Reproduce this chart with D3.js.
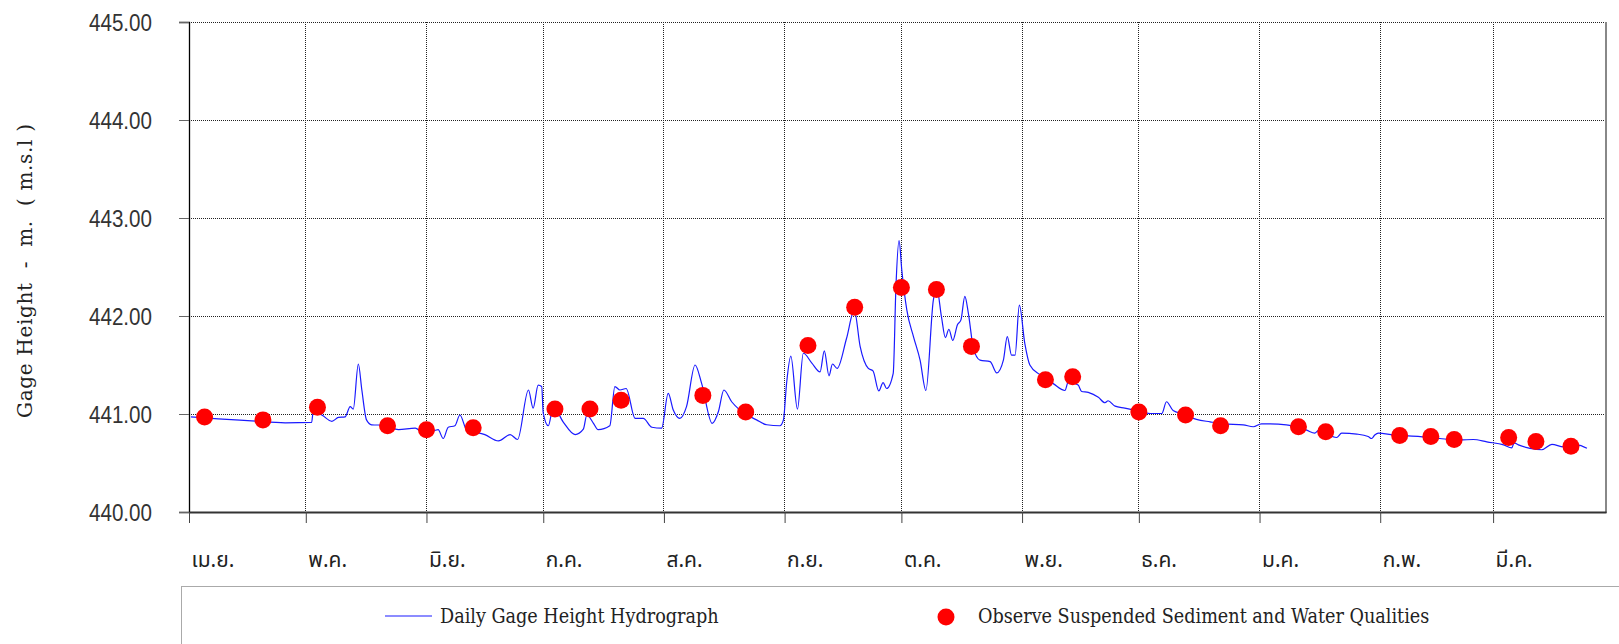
<!DOCTYPE html>
<html><head><meta charset="utf-8">
<script src="https://cdn.jsdelivr.net/npm/d3@7"></script>
<style>body{margin:0;background:#fff;} svg{display:block}</style>
</head><body><svg id="c" width="1619" height="644"></svg>
<script>
// ---- data ----
const monthLabels = ["เม.ย.","พ.ค.","มิ.ย.","ก.ค.","ส.ค.","ก.ย.","ต.ค.","พ.ย.","ธ.ค.","ม.ค.","ก.พ.","มี.ค."];
const monthStarts = ["2023-04-01","2023-05-01","2023-06-01","2023-07-01","2023-08-01","2023-09-01","2023-10-01","2023-11-01","2023-12-01","2024-01-01","2024-02-01","2024-03-01"];
const yTicks = [440, 441, 442, 443, 444, 445];
const yTickLabels = ["440.00","441.00","442.00","443.00","444.00","445.00"];

// daily gage height hydrograph (days after 1 Apr, level m. msl)
const hydroDay = [0.5,7.5,16.1,24.7,31.5,31.9,34.1,36.7,38.4,40.1,41.4,42.2,43.5,44.4,45.6,46.9,50.3,53.8,58.1,60.6,64.0,65.3,66.6,68.3,69.6,71.3,76.0,79.5,82.5,84.4,87.2,88.4,89.7,90.6,91.0,92.3,93.6,96.1,99.2,101.3,102.2,103.9,105.1,108.1,109.4,110.7,112.3,114.6,116.7,118.9,121.4,123.1,124.4,126.1,127.8,130.0,131.7,134.4,136.0,137.4,139.4,141.5,145.8,148.4,151.8,152.7,153.5,154.6,156.3,157.8,160.0,162.1,163.2,164.4,165.3,166.5,168.9,170.9,172.4,174.5,175.7,177.2,178.3,179.2,180.9,181.6,182.4,183.1,184.4,186.1,187.8,189.3,191.2,192.1,193.3,194.3,195.2,196.2,197.4,198.3,199.3,200.2,201.5,203.2,205.8,207.5,209.2,210.2,211.3,212.2,213.3,214.7,216.0,218.6,222.0,225.0,225.9,228.4,229.3,231.0,233.6,235.3,236.1,237.9,240.4,243.4,246.9,249.9,251.1,252.8,255.4,258.8,262.3,265.7,270.8,273.4,275.5,281.9,287.1,289.2,290.1,294.8,296.1,300.0,302.9,303.8,304.6,305.5,309.4,316.3,321.3,326.5,329.9,333.4,337.7,339.8,340.4,341.5,344.5,347.5,350.1,353.1,356.5,359.1];
const hydroLevel = [440.97,440.95,440.93,440.91,440.915,441.02,440.99,440.925,440.965,440.97,441.075,441.05,441.51,441.245,440.94,440.89,440.885,440.84,440.855,440.79,440.84,440.75,440.865,440.88,440.99,440.84,440.79,440.725,440.79,440.74,441.245,441.06,441.295,441.28,441.01,440.88,441.075,440.92,440.79,440.845,440.99,440.905,440.84,440.88,441.28,441.245,441.26,440.955,440.955,440.865,440.855,441.21,441.04,440.955,441.075,441.5,441.31,440.905,441.025,441.245,441.125,441.04,440.94,440.89,440.88,440.94,441.31,441.59,441.05,441.62,441.52,441.43,441.645,441.39,441.51,441.465,441.77,442.06,441.69,441.465,441.44,441.235,441.32,441.26,441.415,442.3,442.77,442.47,442.06,441.79,441.55,441.24,442.16,442.28,441.99,441.78,441.865,441.75,441.91,441.96,442.2,442.03,441.67,441.55,441.535,441.42,441.55,441.79,441.6,441.6,442.11,441.72,441.5,441.4,441.31,441.24,441.33,441.295,441.23,441.22,441.17,441.115,441.135,441.08,441.06,441.035,441.005,441.005,441.125,441.035,441.0,440.945,440.92,440.9,440.89,440.87,440.9,440.89,440.835,440.805,440.83,440.76,440.805,440.795,440.77,440.75,440.785,440.805,440.785,440.77,440.75,440.735,440.74,440.715,440.685,440.655,440.705,440.685,440.65,440.635,440.69,440.665,440.685,440.65];

// observed suspended sediment & water quality samples
const sampleDate = ["2023-04-05","2023-04-20","2023-05-04","2023-05-22","2023-06-01","2023-06-13","2023-07-04","2023-07-13","2023-07-21","2023-08-11","2023-08-22","2023-09-07","2023-09-19","2023-10-01","2023-10-10","2023-10-19","2023-11-07","2023-11-14","2023-12-01","2023-12-13","2023-12-22","2024-01-11","2024-01-18","2024-02-06","2024-02-14","2024-02-20","2024-03-05","2024-03-12","2024-03-21"];
const sampleLevel = [440.97,440.94,441.07,440.88,440.84,440.86,441.05,441.05,441.14,441.19,441.02,441.70,442.09,442.29,442.27,441.69,441.35,441.38,441.02,440.99,440.88,440.87,440.82,440.78,440.77,440.74,440.76,440.72,440.67];

const legendLabels = ["Daily Gage Height Hydrograph","Observe Suspended Sediment and Water Qualities"];
const yTitle = "Gage Height  -  m.  ( m.s.l )";

// ---- drawing ----
const parse = d3.timeParse("%Y-%m-%d");
const start = parse("2023-04-01");
const L = 189, R = 1606, T = 22, B = 512;
const svg = d3.select("#c");
const x = d3.scaleTime().domain([start, parse("2024-03-30")]).range([L, R]);
const y = d3.scaleLinear().domain([440, 445]).range([B, T]);
const dayDate = d => new Date(start.getTime() + d * 86400000);
const thaiFont = "'Noto Sans Thai','Loma','Garuda','Norasi','Tlwg Typo','DejaVu Sans',sans-serif";
const numFont = "'Liberation Sans Narrow','Liberation Sans',sans-serif";
const serifFont = "'DejaVu Serif Condensed','DejaVu Serif',serif";

// grid
const gridColor = "#222";
svg.append("g").selectAll("line").data(yTicks.slice(1)).join("line")
  .attr("x1", L).attr("x2", R).attr("y1", d => y(d)).attr("y2", d => y(d))
  .attr("stroke", gridColor).attr("stroke-width", 1).attr("stroke-dasharray", "1,1").attr("shape-rendering","crispEdges");
const months = monthStarts.map(parse);
svg.append("g").selectAll("line").data(months.slice(1)).join("line")
  .attr("x1", d => x(d)).attr("x2", d => x(d)).attr("y1", T).attr("y2", B)
  .attr("stroke", gridColor).attr("stroke-width", 1).attr("stroke-dasharray", "1,1").attr("shape-rendering","crispEdges");

// right border
svg.append("line").attr("x1", R).attr("x2", R).attr("y1", T).attr("y2", B + 1)
  .attr("stroke", "#888").attr("stroke-width", 2);

// y axis
const yAxis = d3.axisLeft(y).tickValues(yTicks).tickSize(10).tickFormat((d, i) => yTickLabels[i]);
const gy = svg.append("g").attr("transform", `translate(${L},0)`).call(yAxis);
gy.select(".domain").attr("stroke", "#000").attr("stroke-width", 1.3);
gy.selectAll(".tick line").attr("stroke", "#666");
gy.selectAll(".tick text").attr("font-family", numFont).attr("font-size", 23).attr("fill", "#333")
  .attr("x", -37).attr("dy", "0.35em").attr("textLength", 63).attr("lengthAdjust", "spacingAndGlyphs");

// x axis
const xAxis = d3.axisBottom(x).tickValues(months).tickSize(11).tickSizeOuter(0).tickFormat((d, i) => monthLabels[i]);
const gx = svg.append("g").attr("transform", `translate(0,${B})`).call(xAxis);
gx.select(".domain").attr("stroke", "#333").attr("stroke-width", 2);
gx.selectAll(".tick line").attr("stroke", "#444");
gx.selectAll(".tick text").attr("font-family", thaiFont).attr("font-size", 21).attr("fill", "#222")
  .attr("text-anchor", "start").attr("x", 2).attr("y", 40);

// y title
svg.append("text").attr("transform", `translate(32,${(124 + 418) / 2}) rotate(-90)`)
  .attr("text-anchor", "middle").attr("font-family", "'DejaVu Serif',serif").attr("font-size", 20)
  .attr("fill", "#222").style("white-space", "pre").attr("textLength", 294).attr("lengthAdjust", "spacing").text(yTitle);

// hydrograph
const line = d3.line().x((d, i) => x(dayDate(hydroDay[i]))).y(d => y(d)).curve(d3.curveMonotoneX);
svg.append("path").datum(hydroLevel).attr("d", line).attr("fill", "none").attr("stroke", "#1a1aff").attr("stroke-width", 1.2);

// samples
svg.append("g").selectAll("circle").data(sampleLevel).join("circle")
  .attr("cx", (d, i) => x(parse(sampleDate[i]))).attr("cy", d => y(d)).attr("r", 8.5).attr("fill", "#ff0000");

// legend
svg.append("rect").attr("x", 181.5).attr("y", 586.5).attr("width", 1500).attr("height", 100)
  .attr("fill", "none").attr("stroke", "#555").attr("stroke-dasharray", "1,1");
svg.append("line").attr("x1", 385).attr("x2", 432).attr("y1", 616).attr("y2", 616).attr("stroke", "#1a1aff").attr("stroke-width", 1.2);
svg.append("text").attr("x", 440).attr("y", 616).attr("dy", "0.35em").attr("font-family", serifFont).attr("font-size", 19.6)
  .attr("fill", "#222").text(legendLabels[0]);
svg.append("circle").attr("cx", 946).attr("cy", 617).attr("r", 8.5).attr("fill", "#ff0000");
svg.append("text").attr("x", 978).attr("y", 616).attr("dy", "0.35em").attr("font-family", serifFont).attr("font-size", 19.6)
  .attr("fill", "#222").text(legendLabels[1]);
</script></body></html>
